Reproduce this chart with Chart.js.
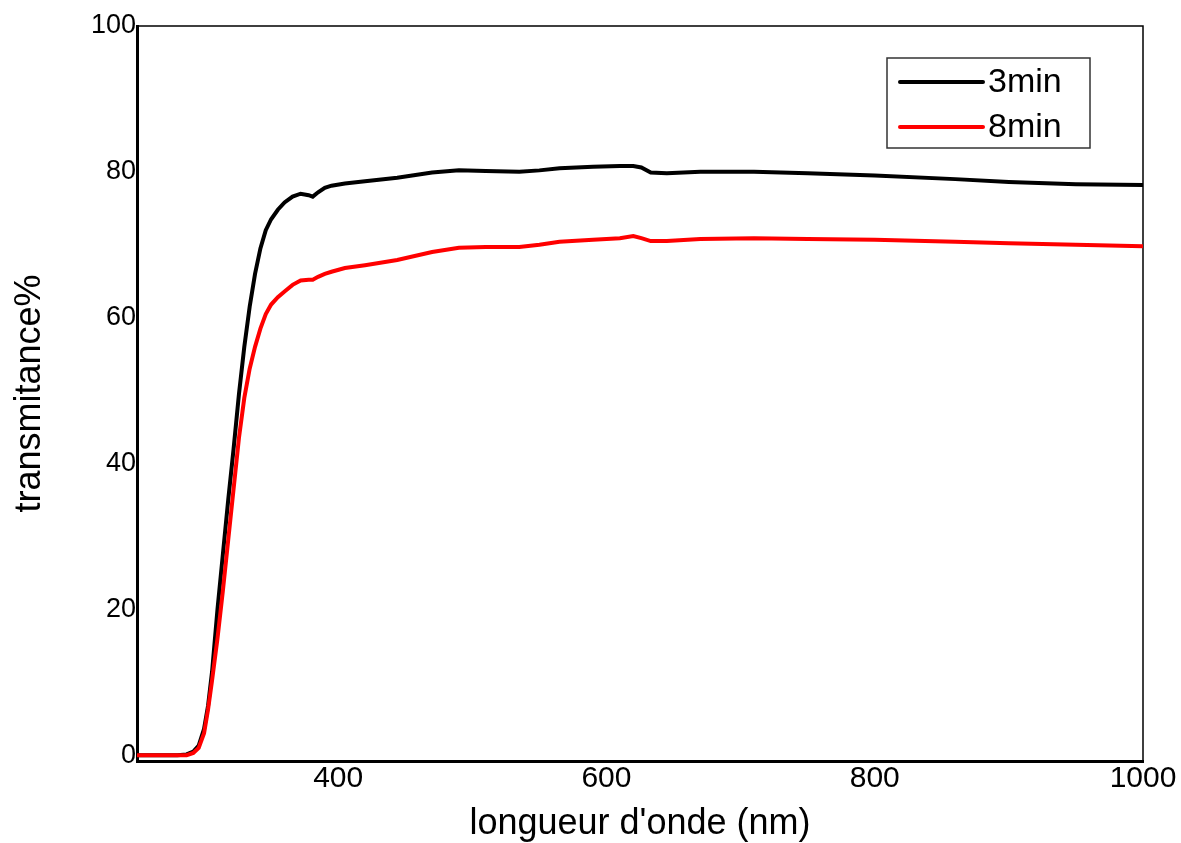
<!DOCTYPE html>
<html>
<head>
<meta charset="utf-8">
<script src="https://cdn.jsdelivr.net/npm/chart.js@4"></script>
<style>
  body { margin: 0; background: #fff; }
</style>
</head>
<body>
<canvas id="spectre" width="1181" height="843"></canvas>
<script>
var seriesNames = ["3min", "8min"];
var lineColors = ["#000000", "#ff0000"];

// longueur d'onde (nm)
var wavelengths = [250, 280, 287, 292, 296, 300, 303, 306, 310, 314, 318, 322, 326, 330, 334, 338, 342, 346, 350, 355,
   360, 366, 372, 378, 381, 385, 390, 395, 405, 420, 444, 470, 490, 510, 535, 550, 565, 590, 610, 620,
   626, 633, 645, 670, 710, 750, 800, 860, 900, 950, 1000];

var trans3min = [0, 0, 0.1, 0.5, 1.3, 3.6, 6.8, 11.5, 20, 27.5, 35, 42, 49.5, 56, 61.5, 66, 69.5, 72, 73.5, 74.8,
   75.8, 76.6, 77.0, 76.8, 76.6, 77.2, 77.8, 78.1, 78.4, 78.7, 79.2, 79.9, 80.2, 80.1, 80.0, 80.2, 80.5, 80.7, 80.8, 80.8,
   80.6, 79.9, 79.8, 80.0, 80.0, 79.8, 79.5, 79.0, 78.6, 78.3, 78.2];

var trans8min = [0, 0, 0, 0.3, 1.0, 3.0, 6.3, 10.3, 16, 22.5, 29.5, 36.5, 43.5, 49, 53, 56, 58.5, 60.5, 61.8, 62.8,
   63.6, 64.5, 65.1, 65.2, 65.2, 65.6, 66.0, 66.3, 66.8, 67.2, 67.9, 69.0, 69.6, 69.7, 69.7, 70.0, 70.4, 70.7, 70.9, 71.2,
   70.9, 70.5, 70.5, 70.8, 70.9, 70.8, 70.7, 70.4, 70.2, 70.0, 69.8];

var xTicks = [400, 600, 800, 1000];
var yTicks = [0, 20, 40, 60, 80, 100];

function toPoints(xs, ys) {
   return xs.map(function (x, i) { return { x: x, y: ys[i] }; });
}

var fontName = "'Liberation Sans', Arial, sans-serif";

// cadre fin (haut et droite)
var cadre = {
   id: "cadre",
   beforeDatasetsDraw: function (chart) {
      var a = chart.chartArea, ctx = chart.ctx;
      ctx.save();
      ctx.strokeStyle = "#000";
      ctx.lineWidth = 1.5;
      ctx.beginPath();
      ctx.moveTo(a.left, a.top);
      ctx.lineTo(a.right, a.top);
      ctx.lineTo(a.right, a.bottom);
      ctx.stroke();
      ctx.restore();
   }
};

// légende encadrée dans le graphique
var legendeBox = {
   id: "legendeBox",
   afterDraw: function (chart) {
      var a = chart.chartArea, ctx = chart.ctx;
      var x0 = a.right - 256, y0 = a.top + 32, w = 203, h = 90;
      ctx.save();
      ctx.fillStyle = "#fff";
      ctx.fillRect(x0, y0, w, h);
      ctx.strokeStyle = "#333";
      ctx.lineWidth = 1.5;
      ctx.strokeRect(x0, y0, w, h);
      chart.data.datasets.forEach(function (ds, i) {
         var y = y0 + 24 + i * 45;
         ctx.strokeStyle = ds.borderColor;
         ctx.lineWidth = 4;
         ctx.lineCap = "round";
         ctx.beginPath();
         ctx.moveTo(x0 + 13, y);
         ctx.lineTo(x0 + 96, y);
         ctx.stroke();
         ctx.fillStyle = "#000";
         ctx.font = "34px " + fontName;
         ctx.textBaseline = "middle";
         ctx.fillText(ds.label, x0 + 101, y + 1);
      });
      ctx.restore();
   }
};

new Chart("spectre", {
   type: "line",
   data: {
      datasets: [{
         label: seriesNames[0],
         data: toPoints(wavelengths, trans3min),
         borderColor: lineColors[0],
         borderWidth: 4,
         pointRadius: 0,
         tension: 0,
         order: 1
      }, {
         label: seriesNames[1],
         data: toPoints(wavelengths, trans8min),
         borderColor: lineColors[1],
         borderWidth: 4,
         pointRadius: 0,
         tension: 0,
         order: 0
      }]
   },
   options: {
      responsive: false,
      animation: false,
      layout: { padding: { top: 26, right: 38, left: 0, bottom: 0 } },
      plugins: {
         legend: { display: false },
         tooltip: { enabled: false }
      },
      scales: {
         x: {
            type: "linear",
            min: 250,
            max: 1000,
            afterBuildTicks: function (scale) {
               scale.ticks = xTicks.map(function (v) { return { value: v }; });
            },
            afterFit: function (scale) { scale.height = 82; },
            grid: { display: false, drawTicks: false },
            border: { display: true, color: "#000", width: 3 },
            ticks: {
               color: "#000",
               padding: 0,
               maxRotation: 0,
               callback: function (v) { return String(v); },
               font: { family: fontName, size: 30 }
            },
            title: {
               display: true,
               text: "longueur d'onde (nm)",
               color: "#000",
               padding: { top: 0, bottom: -3 },
               font: { family: fontName, size: 36 }
            }
         },
         y: {
            min: -0.8,
            max: 100,
            afterBuildTicks: function (scale) {
               scale.ticks = yTicks.map(function (v) { return { value: v }; });
            },
            afterFit: function (scale) { scale.width = 137; },
            grid: { display: false, drawTicks: false },
            border: { display: true, color: "#000", width: 3 },
            ticks: {
               color: "#000",
               padding: 1,
               callback: function (v) { return String(v); },
               font: { family: fontName, size: 27 }
            },
            title: {
               display: true,
               text: "transmitance%",
               color: "#000",
               padding: { top: 8, bottom: 0 },
               font: { family: fontName, size: 36 }
            }
         }
      }
   },
   plugins: [cadre, legendeBox]
});
</script>
</body>
</html>
